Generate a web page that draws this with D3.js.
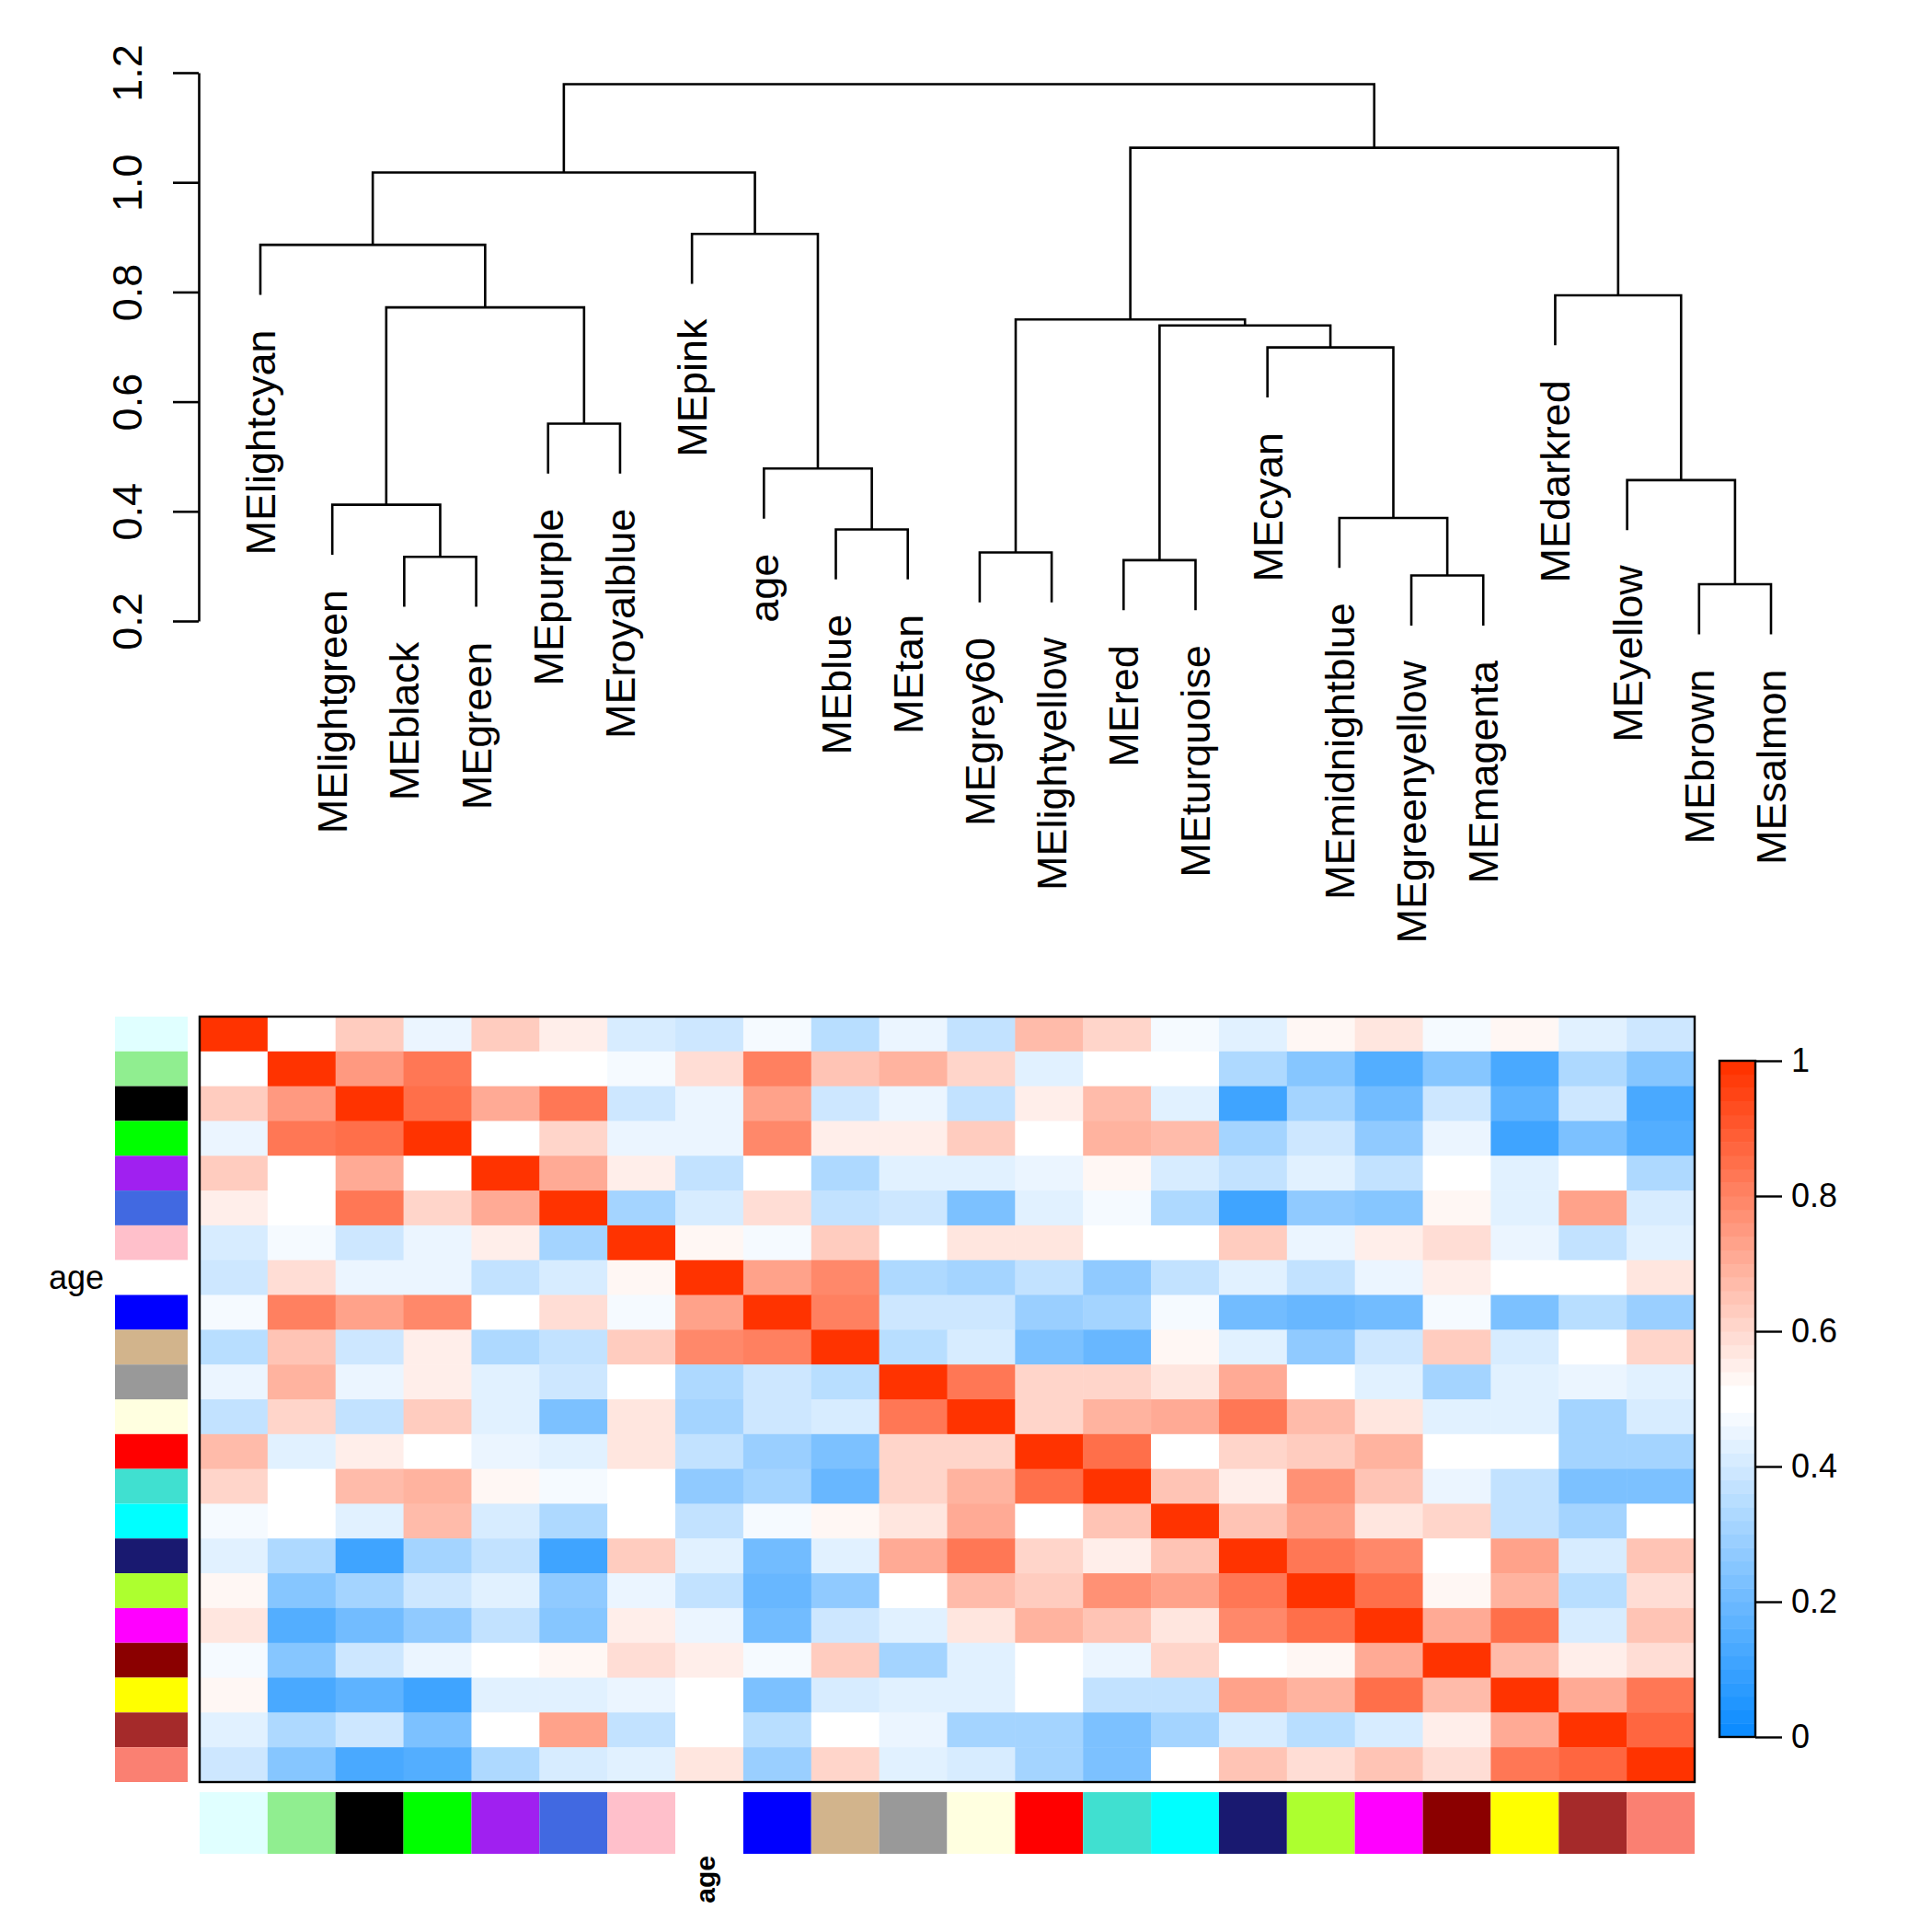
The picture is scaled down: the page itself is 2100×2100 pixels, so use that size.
<!DOCTYPE html>
<html>
<head>
<meta charset="utf-8">
<script src="https://cdn.jsdelivr.net/npm/d3@7"></script>
<style>
  body { margin: 0; background: #ffffff; }
  svg text { font-family: "Liberation Sans", Arial, Helvetica, sans-serif; fill: #000; }
</style>
</head>
<body>
<svg width="2100" height="2100"></svg>
<script>
// leaves, in dendrogram / heatmap order
var modules = ['MElightcyan', 'MElightgreen', 'MEblack', 'MEgreen', 'MEpurple', 'MEroyalblue',
  'MEpink', 'age', 'MEblue', 'MEtan', 'MEgrey60', 'MElightyellow', 'MEred', 'MEturquoise',
  'MEcyan', 'MEmidnightblue', 'MEgreenyellow', 'MEmagenta', 'MEdarkred', 'MEyellow',
  'MEbrown', 'MEsalmon'];

var barColors = ['lightcyan', 'lightgreen', 'black', 'green', 'purple', 'royalblue',
  'pink', 'white', 'blue', 'tan', 'grey60', 'lightyellow', 'red', 'turquoise',
  'cyan', 'midnightblue', 'greenyellow', 'magenta', 'darkred', 'yellow',
  'brown', 'salmon'];

var rColors = {
  lightcyan: '#E0FFFF', lightgreen: '#90EE90', black: '#000000', green: '#00FF00',
  purple: '#A020F0', royalblue: '#4169E1', pink: '#FFC0CB', white: '#FFFFFF',
  blue: '#0000FF', tan: '#D2B48C', grey60: '#999999', lightyellow: '#FFFFE0',
  red: '#FF0000', turquoise: '#40E0D0', cyan: '#00FFFF', midnightblue: '#191970',
  greenyellow: '#ADFF2F', magenta: '#FF00FF', darkred: '#8B0000', yellow: '#FFFF00',
  brown: '#A52A2A', salmon: '#FA8072'
};

// hclust-style merges: negative = leaf position (1-based), positive = earlier merge
var mergeLeft = [-21, -17, -13, -3, -11, -9, -16, -2, -20, -8, -5, -15, 3, 5, 8, -19, -1, -7, 17, 14, 19];
var mergeRight = [-22, -18, -14, -4, -12, -10, 2, 4, 1, 6, -6, 7, 12, 13, 11, 9, 15, 10, 18, 16, 20];
var mergeHeight = [0.267, 0.283, 0.311, 0.317, 0.325, 0.367, 0.388, 0.412, 0.457, 0.478, 0.560,
  0.699, 0.739, 0.750, 0.772, 0.794, 0.886, 0.906, 1.018, 1.063, 1.179];

var heightTicks = [0.2, 0.4, 0.6, 0.8, 1.0, 1.2];
var legendTicks = [0, 0.2, 0.4, 0.6, 0.8, 1];

// eigengene adjacency, rows/cols in the order above
var adjacency = [
  [1.00,0.50,0.63,0.45,0.63,0.55,0.41,0.39,0.47,0.35,0.45,0.37,0.67,0.61,0.47,0.43,0.53,0.57,0.47,0.53,0.43,0.39],
  [0.50,1.00,0.75,0.83,0.50,0.50,0.47,0.59,0.81,0.65,0.69,0.61,0.43,0.50,0.50,0.33,0.25,0.15,0.25,0.13,0.33,0.25],
  [0.63,0.75,1.00,0.85,0.71,0.83,0.39,0.45,0.73,0.39,0.45,0.37,0.55,0.67,0.43,0.11,0.31,0.21,0.39,0.17,0.39,0.13],
  [0.45,0.83,0.85,1.00,0.50,0.61,0.45,0.45,0.79,0.55,0.55,0.63,0.50,0.69,0.67,0.31,0.39,0.27,0.45,0.11,0.23,0.15],
  [0.63,0.50,0.71,0.50,1.00,0.71,0.55,0.37,0.50,0.33,0.43,0.43,0.45,0.53,0.41,0.37,0.43,0.37,0.50,0.43,0.50,0.33],
  [0.55,0.50,0.83,0.61,0.71,1.00,0.31,0.41,0.59,0.37,0.39,0.23,0.43,0.47,0.33,0.11,0.27,0.25,0.53,0.43,0.73,0.41],
  [0.41,0.47,0.39,0.45,0.55,0.31,1.00,0.53,0.47,0.63,0.50,0.57,0.57,0.50,0.50,0.63,0.45,0.55,0.59,0.45,0.37,0.43],
  [0.39,0.59,0.45,0.45,0.37,0.41,0.53,1.00,0.73,0.79,0.33,0.31,0.37,0.27,0.37,0.43,0.37,0.45,0.55,0.50,0.50,0.57],
  [0.47,0.81,0.73,0.79,0.50,0.59,0.47,0.73,1.00,0.81,0.39,0.39,0.29,0.31,0.47,0.21,0.19,0.21,0.47,0.23,0.35,0.29],
  [0.35,0.65,0.39,0.55,0.33,0.37,0.63,0.79,0.81,1.00,0.35,0.41,0.23,0.19,0.53,0.43,0.27,0.39,0.63,0.41,0.50,0.61],
  [0.45,0.69,0.45,0.55,0.43,0.39,0.50,0.33,0.39,0.35,1.00,0.83,0.61,0.61,0.57,0.70,0.50,0.43,0.31,0.43,0.45,0.43],
  [0.37,0.61,0.37,0.63,0.43,0.23,0.57,0.31,0.39,0.41,0.83,1.00,0.61,0.69,0.71,0.83,0.67,0.57,0.43,0.43,0.31,0.41],
  [0.67,0.43,0.55,0.50,0.45,0.43,0.57,0.37,0.29,0.23,0.61,0.61,1.00,0.85,0.50,0.61,0.63,0.69,0.50,0.50,0.31,0.31],
  [0.61,0.50,0.67,0.69,0.53,0.47,0.50,0.27,0.31,0.19,0.61,0.69,0.85,1.00,0.65,0.55,0.77,0.65,0.45,0.37,0.23,0.23],
  [0.47,0.50,0.43,0.67,0.41,0.33,0.50,0.37,0.47,0.53,0.57,0.71,0.50,0.65,1.00,0.65,0.73,0.57,0.61,0.37,0.31,0.50],
  [0.43,0.33,0.11,0.31,0.37,0.11,0.63,0.43,0.21,0.43,0.70,0.83,0.61,0.55,0.65,1.00,0.83,0.79,0.50,0.73,0.41,0.65],
  [0.53,0.25,0.31,0.39,0.43,0.27,0.45,0.37,0.19,0.27,0.50,0.67,0.63,0.77,0.73,0.83,1.00,0.85,0.53,0.69,0.35,0.59],
  [0.57,0.15,0.21,0.27,0.37,0.25,0.55,0.45,0.21,0.39,0.43,0.57,0.69,0.65,0.57,0.79,0.85,1.00,0.71,0.85,0.41,0.65],
  [0.47,0.25,0.39,0.45,0.50,0.53,0.59,0.55,0.47,0.63,0.31,0.43,0.50,0.45,0.61,0.50,0.53,0.71,1.00,0.67,0.55,0.59],
  [0.53,0.13,0.17,0.11,0.43,0.43,0.45,0.50,0.23,0.41,0.43,0.43,0.50,0.37,0.37,0.73,0.69,0.85,0.67,1.00,0.71,0.83],
  [0.43,0.33,0.39,0.23,0.50,0.73,0.37,0.50,0.35,0.50,0.45,0.31,0.31,0.23,0.31,0.41,0.35,0.41,0.55,0.71,1.00,0.87],
  [0.39,0.25,0.13,0.15,0.33,0.41,0.43,0.57,0.29,0.61,0.43,0.41,0.31,0.23,0.50,0.65,0.59,0.65,0.59,0.83,0.87,1.00]
];

var svg = d3.select('svg');
var n = modules.length;

// ---------- dendrogram ----------
var x = d3.scaleLinear().domain([1, n]).range([283, 1925]);
var y = d3.scaleLinear().domain([0.2, 1.2]).range([675, 79]);
var hang = 0.1 * (d3.max(mergeHeight) - d3.min(mergeHeight));

var nodeX = [];
var leafEnd = {};
var dendro = svg.append('g').attr('class', 'dendro');

mergeHeight.forEach(function(h, i) {
  var kids = [mergeLeft[i], mergeRight[i]].map(function(c) {
    if (c < 0) {
      leafEnd[-c] = h - hang;
      return { x: -c, h: h - hang };
    }
    return { x: nodeX[c - 1], h: mergeHeight[c - 1] };
  });
  nodeX[i] = (kids[0].x + kids[1].x) / 2;
  var p = d3.path();
  p.moveTo(x(kids[0].x), y(kids[0].h));
  p.lineTo(x(kids[0].x), y(h));
  p.lineTo(x(kids[1].x), y(h));
  p.lineTo(x(kids[1].x), y(kids[1].h));
  dendro.append('path')
    .attr('d', p.toString())
    .attr('fill', 'none')
    .attr('stroke', '#000')
    .attr('stroke-width', 2.6);
});

dendro.selectAll('text.leaf')
  .data(modules)
  .enter()
  .append('text')
  .attr('class', 'leaf')
  .attr('font-size', 45)
  .attr('text-anchor', 'end')
  .attr('transform', function(d, i) {
    return 'translate(' + (x(i + 1) + 16) + ',' + (y(leafEnd[i + 1]) + 38) + ') rotate(-90)';
  })
  .text(function(d) { return d; });

var gAxis = svg.append('g')
  .attr('transform', 'translate(216,0)')
  .call(d3.axisLeft(y).tickValues(heightTicks).tickSize(28).tickSizeOuter(0)
    .tickFormat(d3.format('.1f')));
gAxis.selectAll('path, line').attr('stroke-width', 2.6);
gAxis.selectAll('.tick text')
  .attr('x', 0)
  .attr('dy', 0)
  .attr('font-size', 45)
  .attr('text-anchor', 'middle')
  .attr('transform', 'translate(-62,0) rotate(-90)');

// ---------- heatmap ----------
var colorRamp = [];
(function() {
  var blueEnd = d3.rgb(0.05 * 255, 0.55 * 255, 255);
  var redEnd = d3.rgb(255, 0.2 * 255, 0);
  var toBlue = d3.interpolateRgb(blueEnd, '#ffffff');
  var toRed = d3.interpolateRgb('#ffffff', redEnd);
  for (var i = 0; i < 25; i++) colorRamp.push(toBlue(i / 24));
  for (var j = 0; j < 25; j++) colorRamp.push(toRed(j / 24));
})();
var color = d3.scaleQuantize().domain([0, 1]).range(colorRamp);

var hx = d3.scaleBand().domain(d3.range(n)).range([217, 1842]);
var hy = d3.scaleBand().domain(d3.range(n)).range([1105, 1937]);

var cells = [];
adjacency.forEach(function(row, r) {
  row.forEach(function(v, c) { cells.push({ r: r, c: c, v: v }); });
});

svg.append('g')
  .attr('class', 'cells')
  .selectAll('rect')
  .data(cells)
  .enter()
  .append('rect')
  .attr('x', function(d) { return hx(d.c); })
  .attr('y', function(d) { return hy(d.r); })
  .attr('width', hx.bandwidth() + 0.5)
  .attr('height', hy.bandwidth() + 0.5)
  .attr('fill', function(d) { return color(d.v); });

svg.append('rect')
  .attr('x', 217).attr('y', 1105)
  .attr('width', 1842 - 217).attr('height', 1937 - 1105)
  .attr('fill', 'none').attr('stroke', '#000').attr('stroke-width', 2.4);

// row colour bars
svg.append('g')
  .selectAll('rect')
  .data(barColors)
  .enter()
  .append('rect')
  .attr('x', 125)
  .attr('y', function(d, i) { return hy(i); })
  .attr('width', 79)
  .attr('height', hy.bandwidth())
  .attr('fill', function(d) { return rColors[d]; });

// column colour bars
svg.append('g')
  .selectAll('rect')
  .data(barColors)
  .enter()
  .append('rect')
  .attr('x', function(d, i) { return hx(i); })
  .attr('y', 1948)
  .attr('width', hx.bandwidth())
  .attr('height', 67)
  .attr('fill', function(d) { return rColors[d]; });

var ageIdx = modules.indexOf('age');
svg.append('text')
  .attr('x', 113)
  .attr('y', hy(ageIdx) + hy.bandwidth() / 2)
  .attr('dy', '0.35em')
  .attr('text-anchor', 'end')
  .attr('font-size', 36)
  .text('age');

svg.append('text')
  .attr('text-anchor', 'end')
  .attr('font-size', 30)
  .attr('font-weight', 'bold')
  .attr('transform', 'translate(' + (hx(ageIdx) + hx.bandwidth() / 2 + 6) + ',2017) rotate(-90)')
  .text('age');

// ---------- colour legend ----------
var ly = d3.scaleLinear().domain([0, 1]).range([1888, 1153]);
var legend = svg.append('g').attr('class', 'legend');
legend.selectAll('rect')
  .data(colorRamp)
  .enter()
  .append('rect')
  .attr('x', 1869)
  .attr('y', function(d, i) { return ly((i + 1) / colorRamp.length); })
  .attr('width', 39)
  .attr('height', function(d, i) { return ly(i / colorRamp.length) - ly((i + 1) / colorRamp.length) + 0.5; })
  .attr('fill', function(d) { return d; });
legend.append('rect')
  .attr('x', 1869).attr('y', ly(1))
  .attr('width', 39).attr('height', ly(0) - ly(1))
  .attr('fill', 'none').attr('stroke', '#000').attr('stroke-width', 2.4);

var lAxis = legend.append('g')
  .attr('transform', 'translate(1908,0)')
  .call(d3.axisRight(ly).tickValues(legendTicks).tickSize(29).tickSizeOuter(0).tickPadding(10)
    .tickFormat(function(d) { return d === 0 || d === 1 ? String(d) : d.toFixed(1); }));
lAxis.select('.domain').remove();
lAxis.selectAll('line').attr('stroke-width', 2.4);
lAxis.selectAll('text').attr('font-size', 36);
</script>
</body>
</html>
